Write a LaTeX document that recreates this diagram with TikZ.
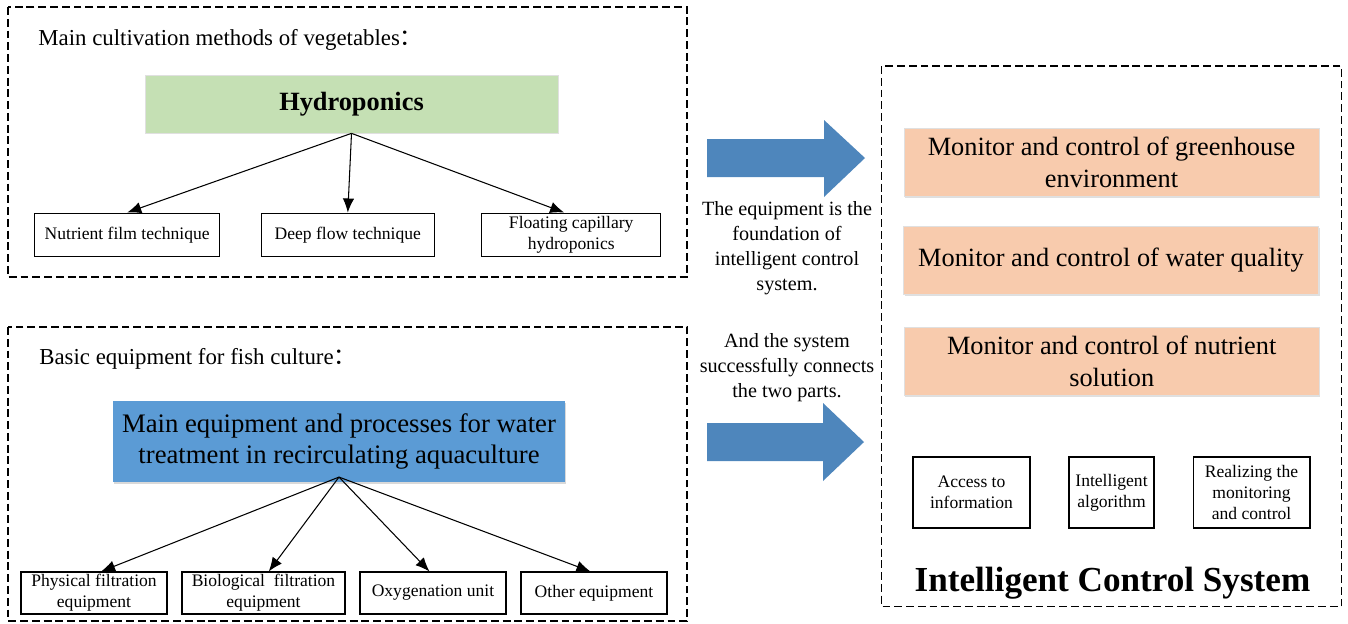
\documentclass[tikz,border=0pt]{standalone}
\usepackage{fontspec}
\setmainfont{Liberation Serif}
\newfontfamily\cjk{Noto Sans CJK SC}
\usepackage{xcolor}
\usepackage{tikz}
\usetikzlibrary{arrows.meta,shadows}

\definecolor{hydrogreen}{HTML}{C5E0B4}
\definecolor{waterblue}{HTML}{5B9BD5}
\definecolor{ctrlorange}{HTML}{F8CBAD}
\definecolor{flowblue}{HTML}{4E86BC}

\begin{document}
\begin{tikzpicture}[x=0.02cm, y=-0.02cm,
    frame/.style={draw, line width=0.6pt, dash pattern=on 4.5pt off 2.2pt},
    leafbox/.style={draw, line width=0.6pt, inner sep=1pt, align=center,
                    font=\fontsize{10}{12}\selectfont},
    ctrlbox/.style={draw=black!12, fill=ctrlorange, align=center,
                    minimum width=8.3cm, minimum height=1.36cm,
                    font=\fontsize{15}{18}\selectfont,
                    drop shadow={shadow xshift=0.6pt, shadow yshift=-1pt, opacity=0.25}},
    treearrow/.style={-{Latex[length=8pt,width=6.5pt]}, line width=0.6pt},
    bigarrow/.style={fill=flowblue}]

    \useasboundingbox (0,0) rectangle (1348,623);

    % Vegetables part
    \draw[frame] (8,7) rectangle (687,277);
    \node[anchor=base west, inner sep=0pt, font=\fontsize{13}{15}\selectfont] (vegtitle) at (38,45)
        {Main cultivation methods of vegetables{\cjk ：}};

    \node[draw=black!12, fill=hydrogreen, minimum width=8.26cm, minimum height=1.16cm,
          font=\bfseries\fontsize{15}{18}\selectfont] (hydro) at (351.5,104) {Hydroponics};

    \node[leafbox, minimum width=3.71cm, minimum height=0.87cm] (nutrient) at (127.2,234.8)
        {Nutrient film technique};
    \node[leafbox, minimum width=3.45cm, minimum height=0.87cm] (deepflow) at (347.8,234.8)
        {Deep flow technique};
    \node[leafbox, minimum width=3.59cm, minimum height=0.87cm] (floating) at (571.2,234.8)
        {Floating capillary\\ hydroponics};

    \draw[treearrow] (hydro.south) -- (nutrient.north);
    \draw[treearrow] (hydro.south) -- (deepflow.north);
    \draw[treearrow] (hydro.south) -- ([xshift=-4pt]floating.north);

    % Fish part
    \draw[frame] (8,327) rectangle (687,621);
    \node[anchor=base west, inner sep=0pt, font=\fontsize{13}{15}\selectfont] (fishtitle) at (39,364)
        {Basic equipment for fish culture{\cjk ：}};

    \node[fill=waterblue, minimum width=9.04cm, minimum height=1.62cm, align=center,
          font=\fontsize{15.2}{18}\selectfont,
          drop shadow={shadow xshift=0.5pt, shadow yshift=-1.2pt, opacity=0.3}] (water) at (339,441.5)
        {Main equipment and processes for water\\ treatment in recirculating aquaculture};

    \node[leafbox, minimum width=2.92cm, minimum height=0.84cm] (physical) at (94,593)
        {Physical filtration\\ equipment};
    \node[leafbox, minimum width=3.26cm, minimum height=0.84cm] (biological) at (263.5,593)
        {Biological~ filtration\\ equipment};
    \node[leafbox, minimum width=2.92cm, minimum height=0.84cm] (oxygen) at (433,593)
        {Oxygenation unit};
    \node[leafbox, minimum width=2.92cm, minimum height=0.84cm] (other) at (594,593)
        {Other equipment};

    \draw[treearrow] ([yshift=3pt]water.south) -- ([xshift=4pt]physical.north);
    \draw[treearrow] ([yshift=3pt]water.south) -- ([xshift=3pt]biological.north);
    \draw[treearrow] ([yshift=3pt]water.south) -- ([xshift=-2pt]oxygen.north);
    \draw[treearrow] ([yshift=3pt]water.south) -- ([xshift=-2pt]other.north);

    % Big arrows and notes
    \fill[bigarrow] (707,139) -- (824,139) -- (824,120) -- (865,158)
        -- (824,197) -- (824,177) -- (707,177) -- cycle;
    \fill[bigarrow] (707,423) -- (823,423) -- (823,403) -- (864,442)
        -- (823,481) -- (823,461) -- (707,461) -- cycle;

    \node[align=center, inner sep=0pt, font=\fontsize{11.5}{14.2}\selectfont] (noteA) at (787,248)
        {The equipment is the\\ foundation of\\ intelligent control\\ system.};
    \node[align=center, inner sep=0pt, font=\fontsize{11.5}{14.2}\selectfont] (noteB) at (787,367.5)
        {And the system\\ successfully connects\\ the two parts.};

    % Intelligent control system
    \draw[frame] (881.5,66) rectangle (1341.5,606.5);

    \node[ctrlbox] (greenhouse) at (1111.5,162.5)
        {Monitor and control of greenhouse\\ environment};
    \node[ctrlbox] (quality) at (1111,260.5)
        {Monitor and control of water quality};
    \node[ctrlbox] (solution) at (1111.7,361.5)
        {Monitor and control of nutrient\\ solution};

    \node[leafbox, minimum width=2.34cm, minimum height=1.42cm] (access) at (971.5,492.5)
        {Access to\\ information};
    \node[leafbox, minimum width=1.70cm, minimum height=1.42cm] (algorithm) at (1111.5,492.5)
        {Intelligent\\ algorithm};
    \node[leafbox, minimum width=2.34cm, minimum height=1.42cm] (realize) at (1251.5,492.5)
        {Realizing the\\ monitoring\\ and control};

    \node[anchor=base, inner sep=0pt, font=\bfseries\fontsize{20}{24}\selectfont] (systitle) at (1112.5,591.5)
        {Intelligent Control System};

\end{tikzpicture}
\end{document}
